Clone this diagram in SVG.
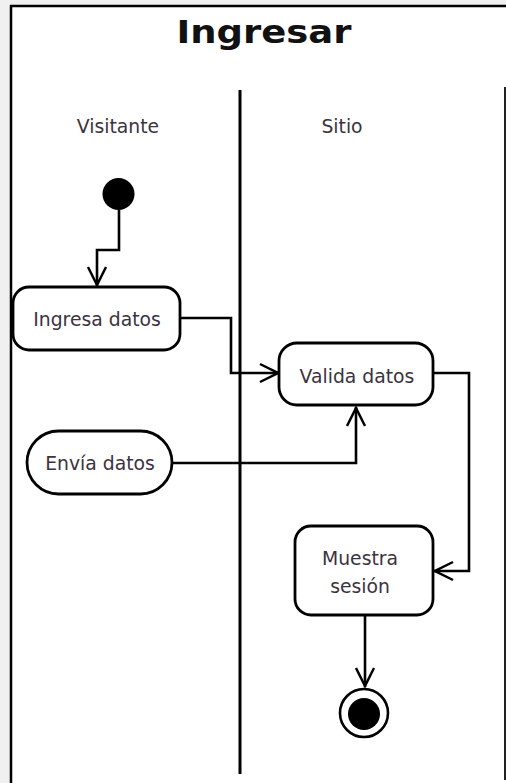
<svg xmlns="http://www.w3.org/2000/svg" width="506" height="783" viewBox="0 0 506 783">
<style>
.lbl{font-family:"DejaVu Sans","Verdana",sans-serif;font-size:18.8px;fill:#3b3340;text-anchor:middle}
.box{fill:#ffffff;stroke:#000;stroke-width:2.8}
.con{fill:none;stroke:#000;stroke-width:2.6}
.title{font-family:"DejaVu Sans",sans-serif;font-weight:bold;font-size:32px;fill:#111;text-anchor:middle}
</style>
<defs>
<marker id="arr" viewBox="0 0 22 22" refX="21" refY="11" markerWidth="22" markerHeight="22" markerUnits="userSpaceOnUse" orient="auto">
<path d="M2,2 L20,11 L2,20" fill="none" stroke="#000" stroke-width="2.5"/>
</marker>
</defs>
<rect x="0" y="0" width="506" height="783" fill="#f0f0f0"/>
<rect x="11" y="6" width="495" height="777" fill="#ffffff"/>
<g id="frame" fill="none" stroke="#000">
<line x1="11" y1="5" x2="11" y2="783" stroke-width="2.5"/>
<line x1="10" y1="6" x2="506" y2="6" stroke-width="2.5"/>
<line x1="505" y1="87" x2="505" y2="780" stroke-width="2" stroke="#222"/>
</g>
<text class="title" x="264" y="43" textLength="175" lengthAdjust="spacingAndGlyphs">Ingresar</text>
<g id="lanes">
<line x1="240" y1="90" x2="240" y2="774" stroke="#000" stroke-width="3"/>
<text class="lbl" x="118" y="133">Visitante</text>
<text class="lbl" x="342" y="133">Sitio</text>
</g>
<g id="connectors">
<path class="con" d="M119,210 V250 H97 V286" marker-end="url(#arr)"/>
<path class="con" d="M180,318 H231 V373 H279" marker-end="url(#arr)"/>
<path class="con" d="M172,463 H356 V407" marker-end="url(#arr)"/>
<path class="con" d="M433,373 H469 V571 H434" marker-end="url(#arr)"/>
<path class="con" d="M365,615 V687" marker-end="url(#arr)"/>
</g>
<g id="start">
<circle cx="118.5" cy="194" r="16" fill="#000"/>
</g>
<g id="ingresa">
<rect class="box" x="13" y="287" width="167" height="63" rx="16"/>
<text class="lbl" x="97" y="326">Ingresa datos</text>
</g>
<g id="valida">
<rect class="box" x="279" y="343" width="154" height="62" rx="18"/>
<text class="lbl" x="357" y="383">Valida datos</text>
</g>
<g id="envia">
<rect class="box" x="27" y="431" width="145" height="63" rx="31.5"/>
<text class="lbl" x="100" y="470">Envía datos</text>
</g>
<g id="muestra">
<rect class="box" x="295" y="526" width="138" height="89" rx="16"/>
<text class="lbl" x="360" y="565">Muestra</text>
<text class="lbl" x="360" y="593">sesión</text>
</g>
<g id="end">
<circle cx="364" cy="713" r="24" fill="#fff" stroke="#000" stroke-width="2.6"/>
<circle cx="364" cy="714" r="16" fill="#000"/>
</g>
</svg>
